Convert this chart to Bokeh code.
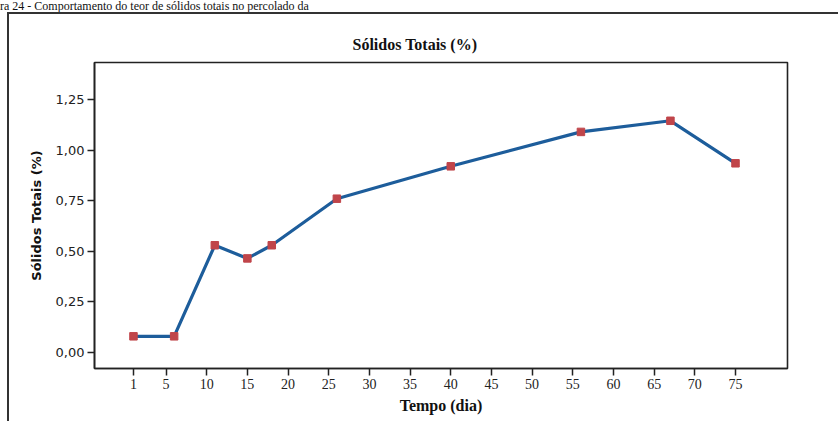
from bokeh.plotting import figure
from bokeh.models import FixedTicker, Div
from bokeh.layouts import column
from bokeh.embed import file_html
from bokeh.resources import INLINE

# data
dias = [1, 6, 11, 15, 18, 26, 40, 56, 67, 75]
solidos = [0.08, 0.08, 0.53, 0.465, 0.53, 0.76, 0.92, 1.09, 1.145, 0.935]
x_ticks = [1, 5, 10, 15, 20, 25, 30, 35, 40, 45, 50, 55, 60, 65, 70, 75]
y_ticks = [0.0, 0.25, 0.5, 0.75, 1.0, 1.25]
y_tick_labels = ["0,00", "0,25", "0,50", "0,75", "1,00", "1,25"]
titulo = "Sólidos Totais (%)"
x_label = "Tempo (dia)"
y_label = "Sólidos Totais (%)"
legenda = "ra 24 - Comportamento do teor de sólidos totais no percolado da"

W, H = 831, 409
fl, fr, ft, fb = 85, 778, 48, 354

caption = Div(text=legenda, width=830, height=12, margin=(0, 0, 0, 0),
              styles={"font-family": "Liberation Serif", "font-size": "12px",
                      "line-height": "12px", "color": "#111111",
                      "white-space": "nowrap"})

p = figure(width=W, height=H, output_backend="svg", toolbar_location=None,
           x_range=(-3.79, 81.39), y_range=(-0.079, 1.433),
           min_border_left=fl, min_border_right=W - fr,
           min_border_top=ft, min_border_bottom=H - fb,
           margin=(0, 0, 0, 7),
           styles={"border-left": "2px solid #333333", "border-top": "2px solid #333333"})

p.background_fill_color = "white"
p.border_fill_color = "white"
p.outline_line_color = "#222222"
p.outline_line_width = 1.6
p.xgrid.visible = False
p.ygrid.visible = False

p.title.text = titulo
p.title.align = "left"
p.title.offset = 253
p.title.padding = 5
p.title.text_font = "Liberation Serif"
p.title.text_font_size = "16px"
p.title.text_font_style = "bold"
p.title.text_color = "#111111"

# axes
xa = p.xaxis[0]
xa.ticker = FixedTicker(ticks=x_ticks)
xa.axis_label = x_label
xa.axis_label_text_font = "Liberation Serif"
xa.axis_label_text_font_size = "16px"
xa.axis_label_text_font_style = "bold"
xa.axis_label_standoff = 5
xa.major_label_text_font = "Liberation Serif"
xa.major_label_text_font_size = "14px"
xa.major_label_standoff = 3

ya = p.yaxis[0]
ya.ticker = FixedTicker(ticks=y_ticks)
ya.major_label_overrides = {t: l for t, l in zip(y_ticks, y_tick_labels)}
ya.axis_label = y_label
ya.axis_label_text_font = "DejaVu Sans"
ya.axis_label_text_font_size = "13px"
ya.axis_label_text_font_style = "bold"
ya.axis_label_standoff = 9
ya.major_label_text_font = "DejaVu Sans"
ya.major_label_text_font_size = "13px"
ya.major_label_standoff = 3

for ax in (xa, ya):
    ax.axis_line_color = "#222222"
    ax.axis_line_width = 1.6
    ax.major_tick_line_color = "#222222"
    ax.major_tick_line_width = 1.5
    ax.major_tick_in = 0
    ax.major_tick_out = 7
    ax.minor_tick_line_color = None
    ax.axis_label_text_color = "#111111"
    ax.major_label_text_color = "#222222"

# data series
p.line(dias, solidos, line_color="#1d5d9b", line_width=3.2)
p.scatter(dias, solidos, marker="square", size=7.5, fill_color="#c0454a",
          line_color="#c0454a")

layout = column(caption, p, spacing=0)
open("out.html", "w").write(file_html(layout, INLINE))
